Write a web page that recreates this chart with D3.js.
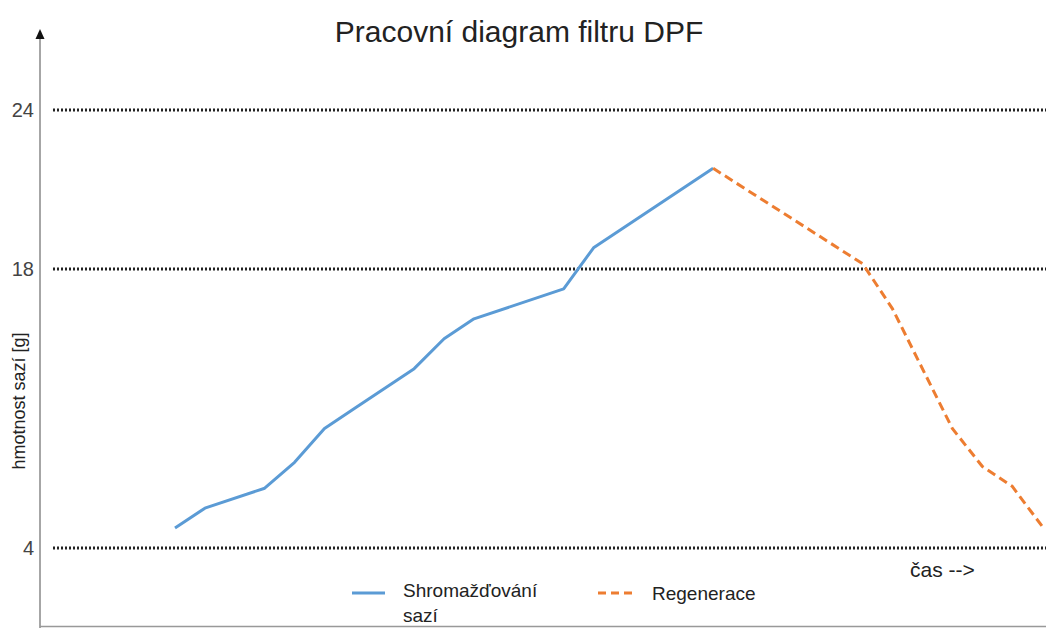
<!DOCTYPE html>
<html>
<head>
<meta charset="utf-8">
<script src="https://cdn.jsdelivr.net/npm/d3@7"></script>
<style>
  body { margin: 0; background: #fff; }
</style>
</head>
<body>
<div id="chart"></div>
<script>
// data (time step index, soot mass in g)
var accumT = [0, 1, 3, 4, 5, 6, 8, 9, 10, 13, 14, 18];
var accumV = [5, 6, 7, 8.3, 10, 11, 13, 14.5, 15.5, 17, 18.8, 21.8];
var regenT = [18, 23, 24, 26, 27, 28, 29];
var regenV = [21.8, 18.2, 16, 10, 8.1, 7.1, 5.1];
var yTicks = [4, 18, 24];
var seriesNames = ["Shromažďování sazí", "Regenerace"];

var width = 1046, height = 628;
var font = "Liberation Sans, Arial, sans-serif";

var svg = d3.select("#chart")
    .append("svg")
    .attr("width", width)
    .attr("height", height);

var x = d3.scaleLinear().domain([0, 29]).range([175, 1042]);
// the axis in the picture is not evenly spaced between its ticks
var y = d3.scaleLinear().domain([4, 18, 24]).range([548, 269, 110]);

// title
svg.append("text")
    .attr("x", 519)
    .attr("y", 42)
    .attr("text-anchor", "middle")
    .style("font-family", font)
    .style("font-size", "30px")
    .style("fill", "#222")
    .text("Pracovní diagram filtru DPF");

// dotted horizontal reference lines
svg.append("g")
    .selectAll("line")
    .data(yTicks)
    .enter()
    .append("line")
    .attr("x1", 53)
    .attr("x2", width)
    .attr("y1", function (d) { return y(d); })
    .attr("y2", function (d) { return y(d); })
    .style("stroke", "#222")
    .style("stroke-width", 3)
    .style("stroke-dasharray", "2,2");

// y axis, labels only
var yAxis = svg.append("g")
    .attr("transform", "translate(40,0)")
    .call(d3.axisLeft(y).tickValues(yTicks).tickSize(0).tickPadding(6));
yAxis.select(".domain").remove();
yAxis.selectAll("text")
    .style("font-family", font)
    .style("font-size", "20px")
    .style("fill", "#444");

// axis line with arrow head
svg.append("line")
    .attr("x1", 40).attr("x2", 40)
    .attr("y1", height).attr("y2", 36)
    .style("stroke", "#888")
    .style("stroke-width", 1.5);
svg.append("path")
    .attr("d", "M40,29 L35.5,39 L44.5,39 Z")
    .style("fill", "#111");

svg.append("line")
    .attr("x1", 40).attr("x2", width)
    .attr("y1", 626.5).attr("y2", 626.5)
    .style("stroke", "#999")
    .style("stroke-width", 1.5);

svg.append("text")
    .attr("transform", "translate(25,401) rotate(-90)")
    .attr("text-anchor", "middle")
    .style("font-family", font)
    .style("font-size", "18px")
    .style("fill", "#222")
    .text("hmotnost sazí [g]");

// series
var line = d3.line()
    .x(function (d) { return x(d[0]); })
    .y(function (d) { return y(d[1]); });

svg.append("path")
    .datum(d3.zip(accumT, accumV))
    .attr("d", line)
    .style("fill", "none")
    .style("stroke", "#5b9bd5")
    .style("stroke-width", 3)
    .style("stroke-linejoin", "round");

svg.append("path")
    .datum(d3.zip(regenT, regenV))
    .attr("d", line)
    .style("fill", "none")
    .style("stroke", "#ed7d31")
    .style("stroke-width", 3)
    .style("stroke-dasharray", "9,5");

// legend
var leg = svg.append("g")
    .style("font-family", font)
    .style("font-size", "19px")
    .style("fill", "#222");

leg.append("line")
    .attr("x1", 352).attr("x2", 385)
    .attr("y1", 593).attr("y2", 593)
    .style("stroke", "#5b9bd5")
    .style("stroke-width", 3);
var t1 = leg.append("text").attr("x", 403).attr("y", 597);
t1.append("tspan").attr("x", 403).text(seriesNames[0].split(" ")[0]);
t1.append("tspan").attr("x", 403).attr("dy", 25).text(seriesNames[0].split(" ")[1]);

leg.append("line")
    .attr("x1", 598).attr("x2", 634)
    .attr("y1", 593).attr("y2", 593)
    .style("stroke", "#ed7d31")
    .style("stroke-width", 3)
    .style("stroke-dasharray", "8,5");
leg.append("text").attr("x", 652).attr("y", 600).text(seriesNames[1]);

svg.append("text")
    .attr("x", 910)
    .attr("y", 577)
    .style("font-family", font)
    .style("font-size", "21px")
    .style("fill", "#222")
    .text("čas -->");
</script>
</body>
</html>
